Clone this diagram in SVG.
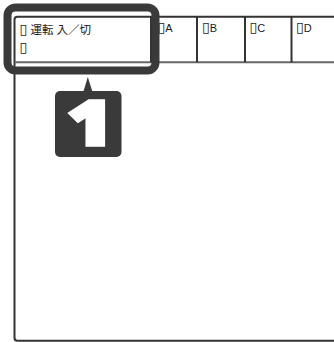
<svg xmlns="http://www.w3.org/2000/svg" width="334" height="342" viewBox="0 0 334 342">
<style>
.ln{fill:none;stroke:#333;stroke-width:2}
.gl{fill:none;stroke:#666;stroke-width:2}
.t{font-family:"Liberation Sans","Noto Sans CJK JP",sans-serif;fill:#1a1a1a}
.bx{font-family:"DejaVu Sans",sans-serif;font-size:14px}
.dark{fill:#3a3a3a}
.num{font-family:"Open Sans","Noto Sans",sans-serif;font-weight:800;fill:#fff;stroke:#fff;stroke-width:3.5;stroke-linejoin:miter;text-anchor:middle}
</style>
<rect width="334" height="342" fill="#fff"/>
<g id="panel">
<path class="ln" d="M336 16.7 H17.5 Q14.5 16.7 14.5 19.7 V338 Q14.5 340.8 17.5 340.8 H336"/>
<line class="gl" x1="14.5" y1="62.3" x2="336" y2="62.3"/>
<line class="ln" x1="151" y1="16.7" x2="151" y2="62.3"/>
<line class="ln" x1="197" y1="16.7" x2="197" y2="62.3"/>
<line class="ln" x1="245" y1="16.7" x2="245" y2="62.3"/>
<line class="ln" x1="291.5" y1="16.7" x2="291.5" y2="62.3"/>
</g>
<g id="cell-main">
<text class="t" x="19.5" y="34" font-size="11.5"><tspan class="bx">▯</tspan> 運転 入／切</text>
<text class="t" x="19.5" y="51.5" font-size="11.5"><tspan class="bx">▯</tspan></text>
</g>
<g id="cell-a"><text class="t" x="157.5" y="32" font-size="11"><tspan class="bx">▯</tspan>A</text></g>
<g id="cell-b"><text class="t" x="202" y="32" font-size="11"><tspan class="bx">▯</tspan>B</text></g>
<g id="cell-c"><text class="t" x="249.5" y="32" font-size="11"><tspan class="bx">▯</tspan>C</text></g>
<g id="cell-d"><text class="t" x="296" y="32" font-size="11"><tspan class="bx">▯</tspan>D</text></g>
<g id="highlight">
<rect x="7.5" y="7.5" width="148" height="63" rx="8" fill="none" stroke="#3a3a3a" stroke-width="8"/>
</g>
<g id="callout-1">
<polygon class="dark" points="83.3,92 87.8,77 92.5,92"/>
<rect class="dark" x="55" y="91" width="66.5" height="66" rx="5"/>
<text class="num" x="0" y="0" font-size="62" transform="translate(90 145.3) scale(1.25 1)">1</text>
</g>
</svg>
